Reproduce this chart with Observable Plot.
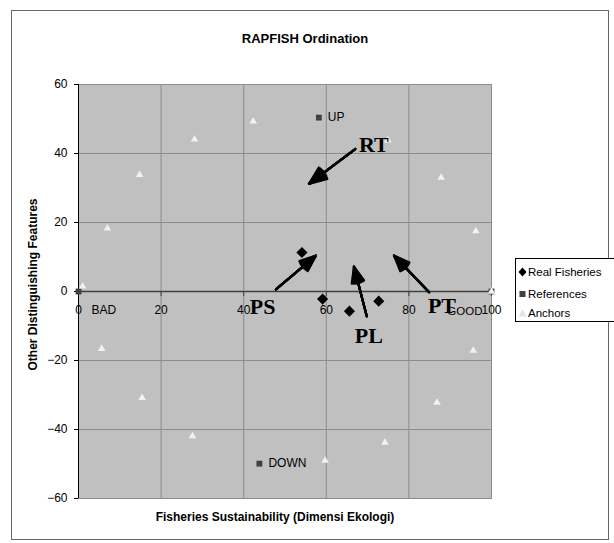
<!DOCTYPE html>
<html>
<head>
<meta charset="utf-8">
<script src="https://cdn.jsdelivr.net/npm/d3@7"></script>
<script src="https://cdn.jsdelivr.net/npm/@observablehq/plot@0.6"></script>
<style>
  html, body { margin: 0; padding: 0; background: #fff; overflow: hidden; }
  #wrap { position: relative; width: 614px; height: 543px; overflow: hidden; font-family: Arial, "Liberation Sans", sans-serif; }
  #border { position: absolute; left: 11px; top: 10px; width: 598px; height: 530px; border: 1px solid #666; box-sizing: border-box; }
  #chart { position: absolute; left: 0; top: 0; }
  #legend { position: absolute; left: 515px; top: 258px; width: 120px; height: 64px; border: 1px solid #000; background: #fff; box-sizing: border-box; font-size: 11.5px; color: #000; }
  .row { position: absolute; left: 0; height: 14px; line-height: 14px; white-space: nowrap; }
  .row svg { position: absolute; left: 2px; top: 2px; }
  .row span { position: absolute; left: 12px; top: 0; }
</style>
</head>
<body>
<div id="wrap">
  <div id="border"></div>
  <div id="chart"></div>
  <div id="legend"></div>
</div>
<script>
// ---- data ----
const title = "RAPFISH Ordination";
const xTitle = "Fisheries Sustainability (Dimensi Ekologi)";
const yTitle = "Other Distinguishing Features";
const xTicks = [0, 20, 40, 60, 80, 100];
const yTicks = [-60, -40, -20, 0, 20, 40, 60];

const realX = [54.1, 59.1, 65.6, 72.7];
const realY = [11.3, -2.2, -5.7, -2.8];

const refNames = ["UP", "DOWN", "BAD", "GOOD"];
const refX = [58.2, 43.8, 0, 100];
const refY = [50.4, -49.9, 0, 0];

const anchorX = [1, 7.0, 14.8, 28.1, 42.3, 74.9, 87.8, 96.2, 100, 95.6, 86.8, 74.2, 59.7, 27.6, 15.4, 5.6];
const anchorY = [1.5, 18.3, 33.8, 44.1, 49.3, 43.8, 33.0, 17.5, 0, -17.1, -32.2, -43.8, -49.0, -41.9, -30.8, -16.6];

const noteLabels = ["RT", "PS", "PL", "PT"];
const noteX = [71.5, 44.6, 70.3, 88.0];
const noteY = [42.4, -4.6, -12.8, -4.3];
const arrowX1 = [67.0, 47.8, 69.8, 84.9];
const arrowY1 = [41.3, 0.6, -7.2, -0.2];
const arrowX2 = [55.8, 57.5, 66.7, 76.4];
const arrowY2 = [31.2, 10.4, 7.2, 10.4];

const seriesNames = ["Real Fisheries", "References", "Anchors"];

// ---- tables ----
const real = realX.map((x, i) => ({x, y: realY[i]}));
const refs = refX.map((x, i) => ({x, y: refY[i], name: refNames[i]}));
const anchors = anchorX.map((x, i) => ({x, y: anchorY[i]}));
const notes = noteLabels.map((t, i) => ({t, x: noteX[i], y: noteY[i], x1: arrowX1[i], y1: arrowY1[i], x2: arrowX2[i], y2: arrowY2[i]}));

const font = "Arial, 'Liberation Sans', sans-serif";
const headAngles = [44, 34, 24, 14, 4];

const chart = Plot.plot({
  width: 614,
  height: 543,
  marginLeft: 78,
  marginRight: 123,
  marginTop: 84,
  marginBottom: 45,
  style: {fontFamily: font, fontSize: "12px", background: "transparent", overflow: "visible", color: "#000"},
  x: {domain: [0, 100], axis: null},
  y: {domain: [-60, 60], axis: null},
  marks: [
    Plot.frame({fill: "#c0c0c0", stroke: "#8c8c8c"}),
    Plot.gridX(xTicks, {stroke: "#8c8c8c", strokeOpacity: 1}),
    Plot.gridY(yTicks, {stroke: "#8c8c8c", strokeOpacity: 1}),
    Plot.ruleY([0], {stroke: "#404040", strokeWidth: 1.6}),
    Plot.ruleX(xTicks, {x: d => d, y1: 0, y2: -1.5, stroke: "#404040"}),
    Plot.text(xTicks, {x: d => d, y: 0, dy: 19, text: d => String(d), fontSize: 12, fill: "#000"}),
    Plot.ruleX([0], {stroke: "#000", y1: -60, y2: 60}),
    Plot.axisY(yTicks, {tickSize: 4, tickPadding: 7, label: null, fontSize: 12, stroke: "#000"}),
    // references
    Plot.dot(refs, {x: "x", y: "y", symbol: "square", r: 3.3, fill: "#404040", stroke: null}),
    Plot.text(refs.filter(d => d.name === "UP" || d.name === "DOWN"), {x: "x", y: "y", text: "name", textAnchor: "start", dx: 9, fontSize: 12, fill: "#000"}),
    Plot.text(refs.filter(d => d.name === "BAD"), {x: "x", y: "y", text: "name", textAnchor: "start", dx: 13, dy: 19, fontSize: 12, fill: "#000"}),
    Plot.text(refs.filter(d => d.name === "GOOD"), {x: "x", y: "y", text: "name", textAnchor: "end", dx: -9, dy: 20, fontSize: 11.5, fill: "#000"}),
    // anchors
    Plot.dot(anchors, {x: "x", y: "y", symbol: "triangle", r: 2.8, fill: "#f2f2f2", stroke: null}),
    // real fisheries
    Plot.dot(real, {x: "x", y: "y", symbol: "diamond2", r: 5, fill: "#000", stroke: null}),
    // annotation arrows
    ...headAngles.map(a => Plot.arrow(notes, {x1: "x1", y1: "y1", x2: "x2", y2: "y2", stroke: "#000", strokeWidth: 2.2, headLength: 13, headAngle: a})),
    Plot.text(notes, {x: "x", y: "y", text: "t", fontFamily: "'Times New Roman', 'Liberation Serif', serif", fontWeight: "bold", fontSize: 22, fill: "#000"}),
    // titles
    Plot.text([title], {frameAnchor: "top", dy: -51, dx: 20, fontSize: 13, fontWeight: "bold", fill: "#000"}),
    Plot.text([xTitle], {frameAnchor: "bottom", dy: 22, dx: -10, fontSize: 12, fontWeight: "bold", fill: "#000"}),
    Plot.text([yTitle], {frameAnchor: "left", textAnchor: "middle", dx: -45, dy: -7, rotate: -90, fontSize: 12, fontWeight: "bold", fill: "#000"})
  ]
});
document.getElementById("chart").appendChild(chart);

// legend
const sym = [
  '<svg width="9" height="10"><path d="M4.5,0.5L8.5,5L4.5,9.5L0.5,5Z" fill="#000"/></svg>',
  '<svg width="9" height="10"><rect x="1.5" y="2" width="6" height="6" fill="#404040"/></svg>',
  '<svg width="9" height="10"><path d="M4.5,1L8.5,8.5L0.5,8.5Z" fill="#e4e4e4"/></svg>'
];
const rowTops = [6, 28, 47];
const legend = document.getElementById("legend");
seriesNames.forEach((n, i) => {
  const r = document.createElement("div");
  r.className = "row";
  r.style.top = rowTops[i] + "px";
  r.innerHTML = sym[i] + "<span>" + n + "</span>";
  legend.appendChild(r);
});
</script>
</body>
</html>
